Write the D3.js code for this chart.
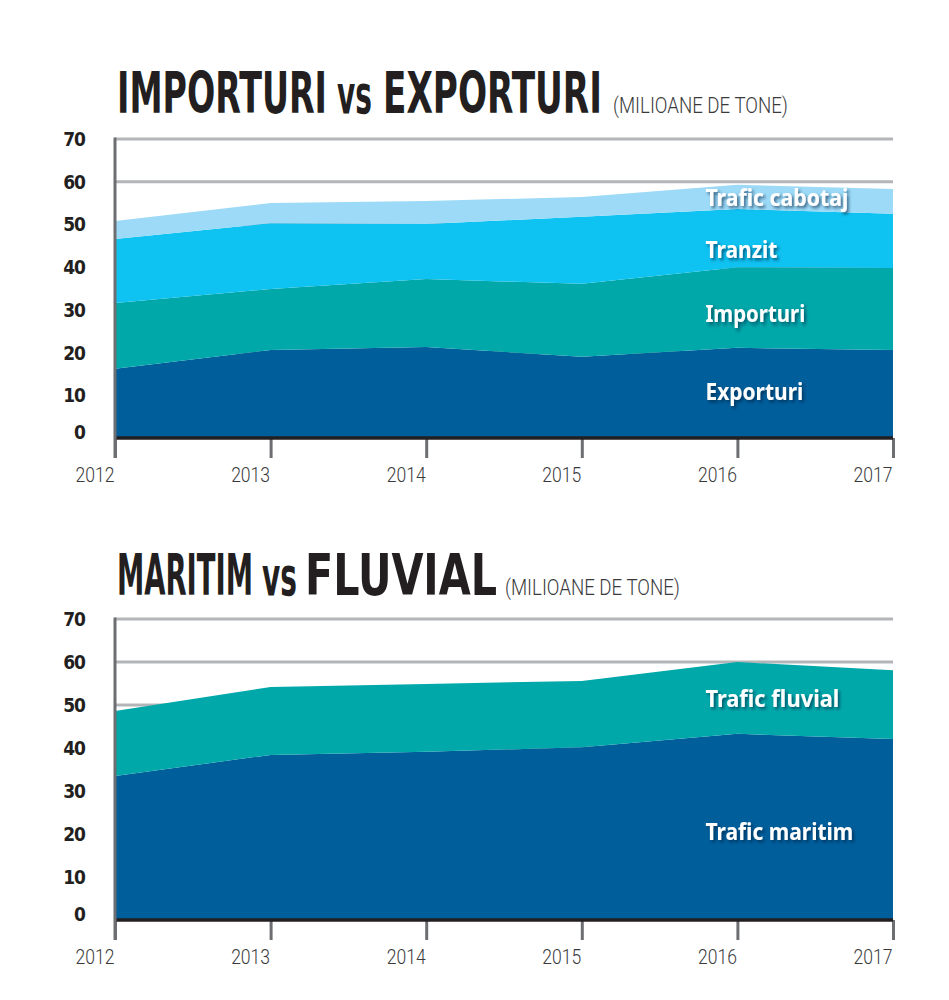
<!DOCTYPE html>
<html>
<head>
<meta charset="utf-8">
<title>Importuri vs Exporturi</title>
<script src="https://d3js.org/d3.v7.min.js"></script>
<style>
  body { margin: 0; background: #fff; }
</style>
</head>
<body>
<div id="chart"></div>
<script>

// years on the x axis and y axis ticks
var years = [2012, 2013, 2014, 2015, 2016, 2017];
var yTicks = [0, 10, 20, 30, 40, 50, 60, 70];

// chart 1 - milioane de tone, stacked bottom to top
var exporturi     = [16.2, 20.6, 21.3, 19.0, 21.1, 20.6];
var importuri     = [15.4, 14.3, 15.9, 17.1, 18.9, 19.2];
var tranzit       = [15.0, 15.4, 12.9, 15.7, 13.6, 12.7];
var traficCabotaj = [ 4.2,  4.7,  5.4,  4.6,  5.7,  5.8];

// chart 2 - milioane de tone, stacked bottom to top
var traficMaritim = [33.5, 38.4, 39.1, 40.2, 43.3, 42.1];
var traficFluvial = [15.1, 15.8, 15.8, 15.4, 16.7, 16.0];

var W = 949, H = 1000;
var svg = d3.select("#chart").append("svg")
    .attr("width", W)
    .attr("height", H);

// soft shadow under the white labels
svg.append("defs").append("filter")
    .attr("id", "shadow")
    .attr("x", "-10%").attr("y", "-30%")
    .attr("width", "130%").attr("height", "170%")
  .append("feDropShadow")
    .attr("dx", 2).attr("dy", 2)
    .attr("stdDeviation", 1.6)
    .attr("flood-color", "#00203a")
    .attr("flood-opacity", 0.6);

var titleFont = "'DejaVu Sans Condensed', 'DejaVu Sans', sans-serif";
var thinFont = "Roboto, Lato, 'Open Sans', sans-serif";
var labelFont = "'Noto Sans', 'Open Sans', sans-serif";

// size a text so it is `width` wide, then stretch it up to the wanted cap height
function fitText(t, width, capH, capRatio) {
    var fs = parseFloat(t.style("font-size"));
    var w0 = t.node().getComputedTextLength();
    var fs2 = fs * width / w0;
    t.style("font-size", fs2 + "px");
    var k = capH / (capRatio * fs2);
    var x = +t.attr("x"), y = +t.attr("y");
    t.attr("x", 0).attr("y", 0)
     .attr("transform", "translate(" + x + "," + y + ") scale(1," + k + ")");
}

function drawChart(opt) {
    var x = d3.scaleLinear()
        .domain([2012, 2017])
        .range([115, 893]);
    var y = d3.scaleLinear()
        .domain([0, 70])
        .range([opt.bottom, opt.top]);

    var g = svg.append("g");

    // title
    opt.title.forEach(function(w) {
        var t = g.append("text")
            .attr("x", w.x)
            .attr("y", opt.titleBase)
            .style("font-family", w.thin ? thinFont : titleFont)
            .style("font-weight", w.thin ? 300 : 700)
            .style("font-size", "40px")
            .style("fill", w.thin ? "#3a3a3c" : "#231f20")
            .text(w.t);
        if (w.thin) fitText(t, w.w, 16, 0.711);
        else if (w.t === "vs") fitText(t, w.w, 29, 0.547);
        else fitText(t, w.w, 41, 0.729);
    });

    // gridlines
    g.selectAll(".grid")
        .data(yTicks.filter(function(d) { return d > 0; }))
        .enter().append("line")
        .attr("x1", x(2012)).attr("x2", x(2017))
        .attr("y1", function(d) { return y(d); })
        .attr("y2", function(d) { return y(d); })
        .attr("stroke", "#b3b5b8")
        .attr("stroke-width", 3);

    // stacked areas
    var table = years.map(function(yr, i) {
        var row = { year: yr };
        opt.series.forEach(function(s) { row[s.name] = s.values[i]; });
        return row;
    });
    var stacked = d3.stack().keys(opt.series.map(function(s) { return s.name; }))(table);
    var area = d3.area()
        .x(function(d) { return x(d.data.year); })
        .y0(function(d) { return y(d[0]); })
        .y1(function(d) { return y(d[1]); });

    g.selectAll(".layer")
        .data(stacked)
        .enter().append("path")
        .attr("d", area)
        .attr("fill", function(d, i) { return opt.series[i].color; });

    // x axis ticks + year labels
    var xAxis = g.append("g")
        .attr("transform", "translate(0," + y(0) + ")")
        .call(d3.axisBottom(x).tickValues(years).tickFormat(d3.format("d")).tickSize(20));
    xAxis.select(".domain").remove();
    xAxis.selectAll(".tick line")
        .attr("stroke", "#6d6e71")
        .attr("stroke-width", 3);
    xAxis.selectAll(".tick text")
        .attr("x", -1)
        .attr("y", 44)
        .attr("dy", 0)
        .attr("text-anchor", "end")
        .style("font-family", thinFont)
        .style("font-weight", 300)
        .style("font-size", "20px")
        .style("fill", "#3a3a3c")
        .each(function() { fitText(d3.select(this), 39, 14.5, 0.711); });

    // baseline
    g.append("line")
        .attr("x1", x(2012)).attr("x2", x(2017))
        .attr("y1", y(0)).attr("y2", y(0))
        .attr("stroke", "#231f20")
        .attr("stroke-width", 3.5);

    // left axis bar
    g.append("line")
        .attr("x1", x(2012)).attr("x2", x(2012))
        .attr("y1", y(70) - 1.5).attr("y2", y(0) + 20)
        .attr("stroke", "#6d6e71")
        .attr("stroke-width", 3);

    // y labels
    g.selectAll(".ylab")
        .data(yTicks)
        .enter().append("text")
        .attr("x", 85)
        .attr("y", function(d) { return d === 0 ? y(d) + 1 : y(d) + 7; })
        .attr("text-anchor", "end")
        .style("font-family", titleFont)
        .style("font-weight", 700)
        .style("font-size", "19px")
        .style("letter-spacing", "-1px")
        .style("fill", "#231f20")
        .text(function(d) { return d; });

    // layer labels
    g.selectAll(".lab")
        .data(opt.labels)
        .enter().append("text")
        .attr("x", x(2016) - 32)
        .attr("y", function(d) { return y(d.at); })
        .attr("filter", "url(#shadow)")
        .style("font-family", labelFont)
        .style("font-weight", 700)
        .style("font-size", "23px")
        .style("fill", "#ffffff")
        .text(function(d) { return d.t; })
        .each(function(d) { fitText(d3.select(this), d.w, 17, 0.714); });
}

drawChart({
    top: 139, bottom: 438, titleBase: 113,
    title: [
        { t: "IMPORTURI", x: 117, w: 210 },
        { t: "vs", x: 337, w: 35 },
        { t: "EXPORTURI", x: 383, w: 219 },
        { t: "(MILIOANE DE TONE)", x: 613, w: 175, thin: true }
    ],
    series: [
        { name: "Exporturi", values: exporturi, color: "#005e9b" },
        { name: "Importuri", values: importuri, color: "#00a8aa" },
        { name: "Tranzit", values: tranzit, color: "#0ec2f1" },
        { name: "Trafic cabotaj", values: traficCabotaj, color: "#9cdaf7" }
    ],
    labels: [
        { t: "Trafic cabotaj", at: 54.2, w: 143 },
        { t: "Tranzit", at: 42.2, w: 72 },
        { t: "Importuri", at: 27.2, w: 100 },
        { t: "Exporturi", at: 9.0, w: 98 }
    ]
});

drawChart({
    top: 619, bottom: 920, titleBase: 595,
    title: [
        { t: "MARITIM", x: 117, w: 136 },
        { t: "vs", x: 262, w: 35 },
        { t: "FLUVIAL", x: 305, w: 192 },
        { t: "(MILIOANE DE TONE)", x: 505, w: 175, thin: true }
    ],
    series: [
        { name: "Trafic maritim", values: traficMaritim, color: "#005e9b" },
        { name: "Trafic fluvial", values: traficFluvial, color: "#00a8aa" }
    ],
    labels: [
        { t: "Trafic fluvial", at: 49.5, w: 134 },
        { t: "Trafic maritim", at: 18.6, w: 148 }
    ]
});

</script>
</body>
</html>
